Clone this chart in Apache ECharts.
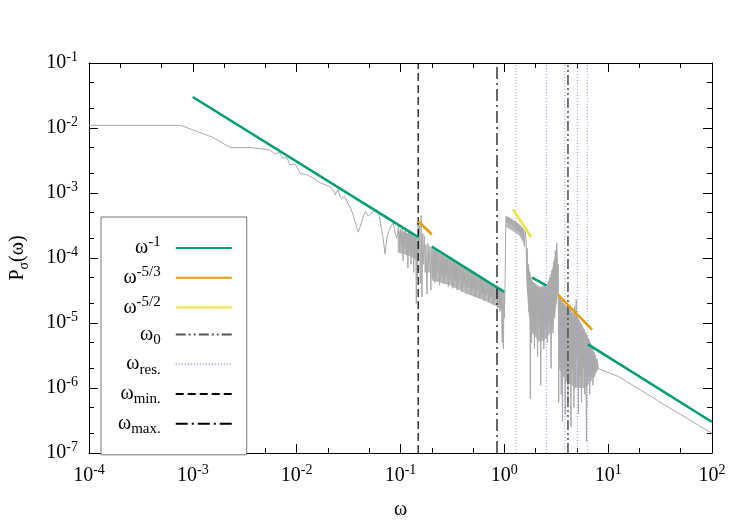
<!DOCTYPE html>
<html>
<head>
<meta charset="utf-8">
<script src="https://cdn.jsdelivr.net/npm/echarts@6/dist/echarts.min.js"></script>
<style>
  html, body { margin: 0; padding: 0; background: #fff; }
  #main { width: 750px; height: 525px; }
</style>
</head>
<body>
<div id="main"></div>
<script>
// decade exponents shown on the axes
var xExponents = [-4, -3, -2, -1, 0, 1, 2];
var yExponents = [-7, -6, -5, -4, -3, -2, -1];
// minor ticks sit at 2 and 5 inside each decade
var minorMantissas = [2, 5];

var spectrum = [
  [1e-4, 1.1e-2], [7.6e-4, 1.1e-2], [1.55e-3, 7.2e-3], [2.3e-3, 5.0e-3], [3.6e-3, 5.0e-3],
  [4.5e-3, 4.8e-3], [5.5e-3, 4.6e-3], [6.2e-3, 4.0e-3], [6.8e-3, 4.2e-3], [7.4e-3, 3.4e-3],
  [8.0e-3, 3.6e-3], [8.6e-3, 2.7e-3], [9.7e-3, 2.8e-3], [1.08e-2, 2.0e-3], [1.25e-2, 1.9e-3],
  [1.4e-2, 1.75e-3], [1.6e-2, 1.5e-3], [1.75e-2, 1.4e-3], [2.1e-2, 1.25e-3], [2.25e-2, 1.1e-3],
  [2.35e-2, 9.4e-4], [2.5e-2, 1.15e-3], [2.6e-2, 9.0e-4], [2.7e-2, 8.3e-4], [2.9e-2, 8.8e-4],
  [3.1e-2, 7.0e-4], [3.3e-2, 5.9e-4], [3.5e-2, 4.6e-4], [3.65e-2, 3.6e-4], [3.8e-2, 2.9e-4],
  [3.9e-2, 2.5e-4], [4.05e-2, 2.9e-4], [4.2e-2, 3.45e-4], [4.4e-2, 4.5e-4], [4.6e-2, 5.2e-4],
  [4.9e-2, 4.4e-4], [5.2e-2, 4.9e-4], [5.5e-2, 5.2e-4], [5.9e-2, 5.5e-4], [6.2e-2, 4.6e-4],
  [6.4e-2, 3.5e-4], [6.8e-2, 2.0e-4], [7.1e-2, 1.15e-4], [7.4e-2, 2.05e-4], [7.9e-2, 2.9e-4],
  [8.5e-2, 3.45e-4], [8.8e-2, 2.6e-4], [9.2e-2, 2.0e-4],
  [0.094, 2.0e-4], [0.096, 3.2e-4], [0.098, 1.3e-4], [0.100, 2.8e-4], [0.102, 1.6e-4],
  [0.104, 3.0e-4], [0.106, 9.0e-5], [0.108, 2.6e-4], [0.110, 1.5e-4], [0.112, 2.9e-4],
  [0.114, 1.1e-4], [0.116, 2.4e-4], [0.118, 7.0e-5], [0.120, 2.7e-4], [0.122, 1.4e-4],
  [0.124, 2.5e-4], [0.126, 8.0e-5], [0.128, 2.3e-4], [0.130, 1.2e-4], [0.132, 2.2e-4],
  [0.134, 6.0e-5], [0.136, 2.0e-4], [0.138, 1.0e-4], [0.140, 2.1e-4], [0.142, 2.0e-5],
  [0.144, 1.8e-4], [0.146, 5.0e-5], [0.148, 3.6e-4], [0.150, 1.2e-4], [0.152, 3.2e-4],
  [0.155, 4.0e-5], [0.158, 4.5e-4], [0.161, 2.5e-5], [0.164, 2.4e-4], [0.167, 8.0e-5],
  [0.170, 2.2e-4], [0.173, 6.0e-5], [0.176, 1.6e-4], [0.180, 2.8e-5], [0.184, 1.7e-4],
  [0.188, 6.0e-5], [0.192, 1.5e-4], [0.196, 3.2e-5], [0.200, 1.4e-4],
  [0.205, 5.0e-5], [0.210, 1.3e-4], [0.215, 4.2e-5], [0.220, 1.25e-4], [0.226, 6.0e-5],
  [0.232, 1.2e-4], [0.238, 3.8e-5], [0.244, 1.1e-4], [0.250, 5.2e-5], [0.256, 1.05e-4],
  [0.262, 4.0e-5], [0.268, 1.0e-4], [0.275, 5.5e-5], [0.282, 9.5e-5], [0.289, 3.6e-5],
  [0.296, 9.8e-5], [0.303, 4.8e-5], [0.311, 9.0e-5], [0.319, 3.4e-5], [0.327, 8.6e-5],
  [0.335, 4.5e-5], [0.343, 8.4e-5], [0.352, 3.2e-5], [0.361, 8.0e-5], [0.370, 4.2e-5],
  [0.379, 7.6e-5], [0.389, 3.0e-5], [0.399, 7.4e-5], [0.409, 3.9e-5], [0.419, 7.0e-5],
  [0.430, 2.8e-5], [0.441, 6.6e-5], [0.452, 3.6e-5], [0.463, 6.4e-5], [0.475, 2.7e-5],
  [0.487, 6.0e-5], [0.499, 3.3e-5], [0.512, 5.8e-5], [0.525, 2.5e-5], [0.538, 5.5e-5],
  [0.552, 3.1e-5], [0.566, 5.2e-5], [0.580, 2.4e-5], [0.595, 5.0e-5], [0.610, 2.9e-5],
  [0.625, 4.8e-5], [0.641, 2.2e-5], [0.657, 4.6e-5], [0.674, 2.7e-5], [0.691, 4.4e-5],
  [0.708, 2.1e-5], [0.726, 4.2e-5], [0.744, 2.5e-5], [0.763, 4.0e-5], [0.782, 1.9e-5],
  [0.802, 3.8e-5], [0.822, 2.3e-5], [0.843, 3.7e-5], [0.864, 1.7e-5], [0.886, 3.6e-5],
  [0.908, 1.5e-5], [0.931, 3.5e-5], [0.955, 5.0e-6], [0.968, 2.0e-5], [0.980, 4.0e-6],
  [0.992, 3.0e-5], [1.000, 1.2e-5], [1.015, 3.5e-5], [1.02, 6.0e-5], [1.03, 2.5e-4],
  [1.04, 4.4e-4], [1.06, 3.6e-4], [1.08, 4.3e-4], [1.10, 3.4e-4], [1.12, 4.2e-4],
  [1.14, 3.3e-4], [1.17, 4.0e-4], [1.20, 3.1e-4], [1.23, 3.8e-4], [1.26, 2.9e-4],
  [1.29, 3.6e-4], [1.32, 2.7e-4], [1.35, 3.4e-4], [1.38, 2.5e-4], [1.41, 3.2e-4],
  [1.44, 2.3e-4], [1.47, 3.0e-4], [1.50, 2.0e-4], [1.53, 2.8e-4], [1.56, 1.5e-4],
  [1.59, 2.6e-4], [1.62, 1.9e-4], [1.64, 6.0e-5], [1.66, 1.4e-4], [1.68, 2.8e-5],
  [1.70, 8.0e-5], [1.73, 1.5e-5], [1.76, 6.0e-5], [1.78, 6.8e-7], [1.80, 5.0e-5],
  [1.83, 5.0e-6], [1.86, 4.5e-5], [1.89, 8.0e-6], [1.92, 4.2e-5], [1.95, 4.0e-6],
  [1.98, 4.0e-5], [2.01, 7.0e-6], [2.05, 3.8e-5], [2.09, 3.0e-6], [2.13, 3.6e-5],
  [2.17, 9.0e-6], [2.21, 3.5e-5], [2.24, 1.1e-6], [2.28, 3.4e-5], [2.32, 6.0e-6],
  [2.36, 3.5e-5], [2.40, 4.0e-6], [2.45, 3.6e-5], [2.50, 8.0e-6], [2.55, 3.8e-5],
  [2.60, 5.0e-6], [2.65, 4.2e-5], [2.70, 9.0e-6], [2.76, 5.0e-5], [2.82, 2.0e-6],
  [2.88, 6.5e-5], [2.94, 7.0e-6], [3.00, 9.0e-5], [3.05, 1.2e-5], [3.10, 1.3e-4],
  [3.15, 2.0e-5], [3.20, 1.7e-4], [3.25, 3.0e-5], [3.30, 8.0e-5], [3.34, 6.0e-7],
  [3.38, 2.6e-5], [3.43, 3.0e-6], [3.48, 2.4e-5], [3.53, 8.0e-7], [3.58, 2.2e-5],
  [3.63, 3.0e-7], [3.68, 2.0e-5], [3.74, 2.0e-6], [3.80, 1.9e-5], [3.86, 4.0e-7],
  [3.92, 1.8e-5], [3.98, 1.5e-6], [4.04, 1.7e-5], [4.10, 6.0e-7], [4.17, 1.6e-5],
  [4.24, 1.2e-6], [4.31, 1.7e-5], [4.38, 2.5e-7], [4.45, 1.4e-5], [4.52, 2.0e-6],
  [4.60, 1.3e-5], [4.68, 5.0e-7], [4.76, 1.8e-5], [4.84, 1.0e-6], [4.92, 2.3e-5],
  [5.00, 3.0e-6], [5.08, 1.2e-5], [5.17, 4.0e-7], [5.26, 1.1e-5], [5.35, 1.5e-6],
  [5.44, 1.0e-5], [5.54, 6.0e-7], [5.64, 9.0e-6], [5.74, 2.0e-6], [5.84, 8.0e-6],
  [5.95, 8.0e-7], [6.06, 7.0e-6], [6.17, 1.5e-7], [6.28, 6.5e-6], [6.40, 1.5e-6],
  [6.52, 5.5e-6], [6.64, 8.0e-7], [6.76, 4.8e-6], [6.88, 1.5e-6], [7.00, 4.2e-6],
  [7.13, 1.1e-6], [7.26, 3.6e-6], [7.40, 1.5e-6], [7.54, 3.2e-6], [7.68, 1.8e-6],
  [7.82, 2.8e-6], [7.96, 2.0e-6], [8.10, 2.1e-6], [12.6, 1.5e-6], [30, 6.4e-7],
  [100, 2.0e-7]
];

// core of the dense noise band: [omega, P low, P high]
var bands = [
  [[0.094, 1.2e-4, 2.6e-4], [0.12, 1.1e-4, 2.4e-4], [0.146, 9.0e-5, 2.0e-4]],
  [[0.2, 4.5e-5, 1.4e-4], [0.3, 3.8e-5, 9.5e-5], [0.44, 2.8e-5, 7.2e-5],
   [0.65, 2.2e-5, 4.8e-5], [0.85, 1.8e-5, 3.7e-5], [0.99, 1.6e-5, 3.2e-5]],
  [[1.04, 3.0e-4, 4.4e-4], [1.2, 2.6e-4, 3.9e-4], [1.4, 2.2e-4, 3.3e-4], [1.56, 1.6e-4, 2.7e-4]],
  [[1.62, 5.0e-5, 1.8e-4], [1.7, 1.5e-5, 8.0e-5], [1.85, 7.0e-6, 4.3e-5], [2.2, 5.0e-6, 3.6e-5],
   [2.6, 6.0e-6, 4.0e-5], [2.9, 8.0e-6, 7.0e-5], [3.2, 2.0e-5, 1.5e-4], [3.3, 3.0e-5, 7.0e-5]],
  [[3.36, 2.0e-6, 2.4e-5], [4.0, 1.2e-6, 1.8e-5], [5.0, 1.0e-6, 1.3e-5], [6.0, 1.0e-6, 7.5e-6],
   [7.0, 1.3e-6, 4.5e-6], [8.1, 2.0e-6, 2.2e-6]]
];

// power-law guide segments [[omega, P], [omega, P]]
var fitMinus1 = [
  [[1e-3, 3.0e-2], [0.148, 2.1e-4]],
  [[0.2, 1.5e-4], [1.0, 3.0e-5]],
  [[1.85, 5.0e-5], [2.53, 3.8e-5]],
  [[6.4, 4.7e-6], [100, 3.0e-7]]
];
var fitMinus53 = [
  [[0.148, 3.7e-4], [0.2, 2.3e-4]],
  [[3.3, 2.7e-5], [7.0, 7.9e-6]]
];
var fitMinus52 = [
  [[1.21, 5.6e-4], [1.81, 2.1e-4]]
];

// characteristic frequencies (vertical lines)
var omega0 = [4.1];
var omegaRes = [1.29, 2.54, 3.82, 5.05, 6.3];
var omegaMin = [0.148];
var omegaMax = [0.85];

var FONT = 'Liberation Serif';
var yLow = Math.pow(10, yExponents[0]);
var yHigh = Math.pow(10, yExponents[yExponents.length - 1]);

var legendText = {
  'w-1': '{w|ω}{sup|-1}{gap| }',
  'w-5/3': '{w|ω}{sup|-5/3}{gap| }',
  'w-5/2': '{w|ω}{sup|-5/2}{gap| }',
  'w0': '{w|ω}{sub|0}{gap| }',
  'wres': '{w|ω}{sub|res.}{gap| }',
  'wmin': '{w|ω}{sub|min.}{gap| }',
  'wmax': '{w|ω}{sub|max.}{gap| }'
};

function minorTicks(exps) {
  var out = [];
  for (var i = 0; i < exps.length - 1; i++) {
    minorMantissas.forEach(function (m) {
      out.push(exps[i] + Math.log10(m));
    });
  }
  return out;
}

function segSeries(name, segs, style, z) {
  return segs.map(function (seg) {
    return {
      name: name, type: 'line', data: seg, symbol: 'none', showSymbol: false,
      itemStyle: { color: style.color },
      lineStyle: style, z: z, silent: true, animation: false
    };
  });
}

function vlines(vals) {
  return vals.map(function (v) { return [[v, yLow], [v, yHigh]]; });
}

var labelRich = {
  b: { fontFamily: FONT, fontSize: 20, lineHeight: 26, verticalAlign: 'middle', color: '#000' },
  e: { fontFamily: FONT, fontSize: 14, lineHeight: 10, verticalAlign: 'top', color: '#000' }
};
function decadeLabel(v) {
  return '{b|10}{e|' + Math.round(Math.log10(v)) + '}';
}

var myChart = echarts.init(document.getElementById('main'));

var series = [];
// filled core of the noisy band
series.push({
  name: 'band', type: 'custom', z: 1, silent: true, animation: false,
  data: bands.map(function (b) { return [b[0][0], b[0][2]]; }),
  renderItem: function (params, api) {
    var b = bands[params.dataIndex];
    var pts = b.map(function (p) { return api.coord([p[0], p[2]]); });
    b.slice().reverse().forEach(function (p) { pts.push(api.coord([p[0], p[1]])); });
    return { type: 'polygon', shape: { points: pts }, style: { fill: '#b9b9b9' } };
  }
});
series.push({
  name: 'spectrum', type: 'line', data: spectrum, symbol: 'none',
  lineStyle: { color: '#a9a9a9', width: 1 }, z: 2, silent: true, animation: false
});
series = series
  .concat(segSeries('wres', vlines(omegaRes), { color: '#9a9af0', width: 1, type: [1, 2] }, 3))
  .concat(segSeries('wmin', vlines(omegaMin), { color: '#000', width: 1.2, type: [8, 4] }, 3))
  .concat(segSeries('wmax', vlines(omegaMax), { color: '#000', width: 1.2, type: [12, 4, 2, 4] }, 3))
  .concat(segSeries('w0', vlines(omega0), { color: '#555', width: 1.6, type: [10, 3, 2, 3, 2, 3] }, 3))
  .concat(segSeries('w-1', fitMinus1, { color: '#009e73', width: 2.6 }, 4))
  .concat(segSeries('w-5/3', fitMinus53, { color: '#e69f00', width: 2.6 }, 4))
  .concat(segSeries('w-5/2', fitMinus52, { color: '#f0e442', width: 2.6 }, 4));

var logAxisBase = {
  type: 'log', logBase: 10, splitNumber: 6,
  axisLine: { show: true, onZero: false, lineStyle: { color: '#000', width: 1 } },
  axisTick: { show: true, inside: true, length: 9, lineStyle: { color: '#000' } },
  splitLine: { show: false }
};
function minorAxis(pos, lo, hi, exps) {
  return {
    type: 'value', position: pos, min: lo, max: hi,
    axisLine: { show: false, onZero: false }, axisLabel: { show: false }, splitLine: { show: false },
    axisTick: { show: true, inside: true, length: 5, customValues: minorTicks(exps), lineStyle: { color: '#000' } }
  };
}

myChart.setOption({
  backgroundColor: '#fff',
  animation: false,
  grid: { left: 89, right: 38, top: 63, bottom: 67 },
  legend: {
    data: ['w-1', 'w-5/3', 'w-5/2', 'w0', 'wres', 'wmin', 'wmax'],
    orient: 'vertical', align: 'right',
    left: 101, top: 217,
    padding: [18, 14, 18, 17],
    itemWidth: 56, itemHeight: 14, itemGap: 6.8,
    itemStyle: { opacity: 0 },
    borderColor: '#777', borderWidth: 1, backgroundColor: '#fff',
    selectedMode: false,
    formatter: function (name) { return legendText[name]; },
    textStyle: {
      fontFamily: FONT, color: '#000',
      rich: {
        w: { fontFamily: FONT, fontSize: 20, lineHeight: 26, verticalAlign: 'middle', color: '#000' },
        sup: { fontFamily: FONT, fontSize: 15, lineHeight: 10, verticalAlign: 'top', color: '#000' },
        sub: { fontFamily: FONT, fontSize: 15, lineHeight: 12, verticalAlign: 'bottom', color: '#000' },
        gap: { width: 10, fontSize: 10 }
      }
    }
  },
  xAxis: [
    Object.assign({}, logAxisBase, {
      position: 'bottom',
      min: Math.pow(10, xExponents[0]), max: Math.pow(10, xExponents[xExponents.length - 1]),
      name: 'ω', nameLocation: 'middle', nameGap: 47,
      nameTextStyle: { fontFamily: FONT, fontSize: 20, color: '#000' },
      axisLabel: { margin: 10, formatter: decadeLabel, rich: labelRich }
    }),
    Object.assign({}, logAxisBase, {
      position: 'top',
      min: Math.pow(10, xExponents[0]), max: Math.pow(10, xExponents[xExponents.length - 1]),
      axisLabel: { show: false }
    }),
    minorAxis('bottom', xExponents[0], xExponents[xExponents.length - 1], xExponents),
    minorAxis('top', xExponents[0], xExponents[xExponents.length - 1], xExponents)
  ],
  yAxis: [
    Object.assign({}, logAxisBase, {
      position: 'left', min: yLow, max: yHigh,
      name: '{p|P}{s|σ}{p|(ω)}', nameLocation: 'middle', nameGap: 58,
      nameTextStyle: {
        fontFamily: FONT, color: '#000',
        rich: {
          p: { fontFamily: FONT, fontSize: 20, lineHeight: 26, verticalAlign: 'middle', color: '#000' },
          s: { fontFamily: FONT, fontSize: 14, lineHeight: 12, verticalAlign: 'bottom', color: '#000' }
        }
      },
      axisLabel: { margin: 11, formatter: decadeLabel, rich: labelRich }
    }),
    Object.assign({}, logAxisBase, {
      position: 'right', min: yLow, max: yHigh,
      axisLabel: { show: false }
    }),
    minorAxis('left', yExponents[0], yExponents[yExponents.length - 1], yExponents),
    minorAxis('right', yExponents[0], yExponents[yExponents.length - 1], yExponents)
  ],
  series: series
});
</script>
</body>
</html>
